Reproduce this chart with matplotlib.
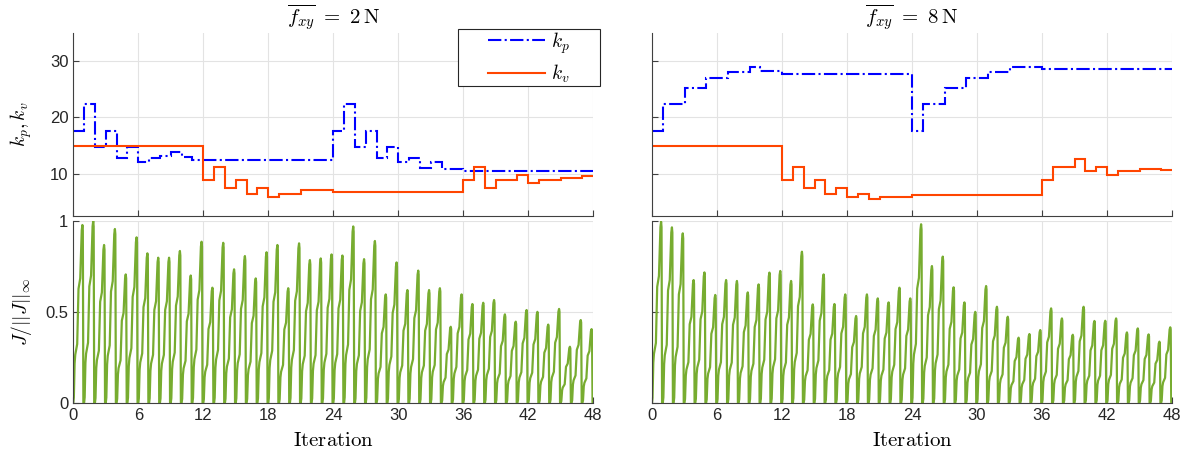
import matplotlib
matplotlib.use("Agg")
import matplotlib.pyplot as plt
from matplotlib.patches import Rectangle
import numpy as np

plt.rcParams["font.family"] = ["Liberation Sans", "DejaVu Sans"]
plt.rcParams["mathtext.fontset"] = "cm"

# gains per iteration (value held over [i, i+1))
kp_2N = [17.6, 22.4, 14.8, 17.6, 12.7, 14.8, 12.1, 12.7, 13.2, 13.8, 12.9] + [12.4] * 13 + \
        [17.6, 22.4, 14.8, 17.6, 12.8, 14.7, 12.1, 12.8, 11.0, 12.0, 10.9, 10.9] + [10.55] * 12
kv_2N = [15.0] * 12 + [8.8, 11.1, 7.4, 8.8, 6.4, 7.4, 5.9, 6.4, 6.4] + [7.0] * 3 + [6.7] * 12 + \
        [8.9, 11.1, 7.4, 8.8, 8.8, 9.8, 8.3, 8.8, 8.8, 9.3, 9.3, 9.5]
kp_8N = [17.6, 22.4, 22.4, 25.3, 25.3, 27.1, 27.1, 28.1, 28.1, 29.0, 28.3, 28.3] + [27.8] * 12 + \
        [17.6, 22.4, 22.4, 25.3, 25.3, 27.1, 27.1, 28.1, 28.1, 29.0, 29.0, 29.0] + [28.7] * 12
kv_8N = [15.0] * 12 + [8.8, 11.1, 7.4, 8.8, 6.4, 7.4, 5.9, 6.4, 5.5] + [5.9] * 3 + [6.1] * 12 + \
        [8.9, 11.1, 11.1, 12.55, 10.4, 11.1, 9.8, 10.4, 10.4, 10.8, 10.8, 10.7]

# peak of normalised cost in each iteration
J_peak_2N = [0.978, 1.0, 0.868, 0.956, 0.706, 0.91, 0.822, 0.798, 0.798, 0.835, 0.70, 0.886,
             0.633, 0.88, 0.734, 0.807, 0.684, 0.828, 0.868, 0.63, 0.877, 0.785, 0.794, 0.816,
             0.81, 0.97, 0.79, 0.89, 0.596, 0.772, 0.62, 0.727, 0.62, 0.63, 0.418, 0.596,
             0.543, 0.55, 0.565, 0.486, 0.446, 0.51, 0.5, 0.43, 0.516, 0.308, 0.455, 0.405]
J_peak_8N = [0.996, 0.965, 0.932, 0.675, 0.717, 0.593, 0.675, 0.67, 0.607, 0.651, 0.716, 0.725,
             0.67, 0.831, 0.541, 0.706, 0.543, 0.596, 0.477, 0.596, 0.574, 0.552, 0.633, 0.574,
             0.982, 0.752, 0.804, 0.635, 0.552, 0.5, 0.642, 0.528, 0.473, 0.358, 0.378, 0.4,
             0.519, 0.464, 0.374, 0.528, 0.45, 0.451, 0.464, 0.387, 0.409, 0.376, 0.336, 0.415]

# shape of the cost over one iteration (phase, fraction of peak)
J_phase = [0.00, 0.05, 0.12, 0.18, 0.36, 0.48, 0.56, 0.64, 0.78, 0.84, 0.88, 0.93, 1.00]
J_shape = [0.00, 0.03, 0.22, 0.27, 0.33, 0.64, 0.67, 0.70, 0.97, 1.00, 0.97, 0.00, 0.00]

titles = [r"$\overline{f_{xy}}\ =\ 2\,\mathrm{N}$", r"$\overline{f_{xy}}\ =\ 8\,\mathrm{N}$"]
gains = [(kp_2N, kv_2N), (kp_8N, kv_8N)]
peaks = [J_peak_2N, J_peak_8N]

W, H = 1185, 457
fig = plt.figure(figsize=(W / 100, H / 100), dpi=100)

lefts = [73.3, 652]
aw = 520
for col in range(2):
    l = lefts[col] / W
    ax_top = fig.add_axes([l, 1 - 215.7 / H, aw / W, 182.4 / H])
    ax_bot = fig.add_axes([l, 1 - 402.7 / H, aw / W, 181.7 / H])
    kp, kv = gains[col]
    edges = np.arange(len(kp) + 1)
    h1 = ax_top.stairs(kp, edges, baseline=None, color="#0000ff", linestyle="-.", linewidth=1.5, label=r"$k_p$")
    h2 = ax_top.stairs(kv, edges, baseline=None, color="#ff4500", linestyle="-", linewidth=1.5, label=r"$k_v$")
    ax_top.set_ylim(2.5, 35)
    ax_top.set_yticks([10, 20, 30])
    ax_top.set_title(titles[col], fontsize=15, pad=5)

    x = []
    y = []
    for i, p in enumerate(peaks[col]):
        x.extend([i + ph for ph in J_phase])
        y.extend([p * s for s in J_shape])
    ax_bot.plot(x, y, color="#77ac30", linewidth=1.6)
    ax_bot.set_ylim(0, 1)
    ax_bot.set_yticks([0, 0.5, 1])
    ax_bot.set_yticklabels(["0", "0.5", "1"])
    ax_bot.set_xlabel(r"$\mathrm{Iteration}$", fontsize=15, labelpad=6)

    for ax in (ax_top, ax_bot):
        ax.set_xlim(0, 48)
        ax.set_xticks(np.arange(0, 49, 6))
        ax.grid(True, color="#e3e3e3", linewidth=0.8)
        ax.set_axisbelow(True)
        ax.spines["top"].set_visible(False)
        ax.spines["right"].set_visible(False)
        for s in ("left", "bottom"):
            ax.spines[s].set_color("#404040")
            ax.spines[s].set_linewidth(0.8)
        ax.tick_params(direction="in", length=4, color="#404040", labelsize=12, labelcolor="#262626")
    ax_top.tick_params(labelbottom=False)
    if col == 0:
        ax_top.set_ylabel(r"$k_p, k_v$", fontsize=14)
        ax_bot.set_ylabel(r"$J/||J||_\infty$", fontsize=14)
        ax_top.yaxis.set_label_coords(-0.075, 0.5)
        ax_bot.yaxis.set_label_coords(-0.075, 0.5)
        handles = [h1, h2]
    else:
        ax_top.tick_params(labelleft=False)
        ax_bot.tick_params(labelleft=False)

# legend box
fig.patches.append(Rectangle((457.7 / W, 1 - 85.7 / H), (600 - 457.7) / W, (85.7 - 29) / H,
                             transform=fig.transFigure, facecolor="white", edgecolor="#262626",
                             linewidth=0.8, zorder=5))
leg = fig.legend(handles, [r"$k_p$", r"$k_v$"], loc="center", bbox_to_anchor=(529 / W, 1 - 57.4 / H),
                 frameon=False, fontsize=14, handlelength=2.9, handletextpad=0.3, labelspacing=0.35)
leg.set_zorder(6)

fig.savefig("out.png", dpi=100)
